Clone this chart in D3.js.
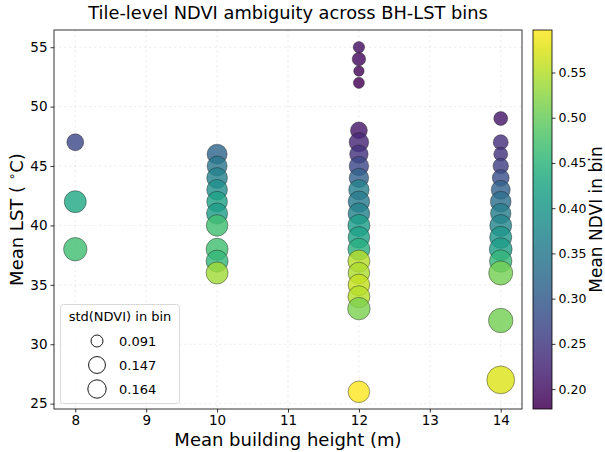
<!DOCTYPE html>
<html><head><meta charset="utf-8">
<script src="https://cdn.jsdelivr.net/npm/d3@7"></script>
<style>body{margin:0;background:#fff;} svg{display:block;font-family:"DejaVu Sans",sans-serif;}</style>
</head><body>
<svg id="c" width="605" height="452"></svg>
<script>
// Data
const bh   = [8,8,8,
  10,10,10,10,10,10,10,10,10,10,
  12,12,12,12,12,12,12,12,12,12,12,12,12,12,12,12,12,12,12,12,12,
  14,14,14,14,14,14,14,14,14,14,14,14,14,14,14];
const lst  = [47,42,38,
  46,45,44,43,42,41,40,38,37,36,
  55,54,53,52,48,47,46,45,44,43,42,41,40,39,38,37,36,35,34,33,26,
  49,47,46,45,44,43,42,41,40,39,38,37,36,32,27];
const ndvi = [0.27,0.43,0.47,
  0.316,0.345,0.366,0.387,0.42,0.41,0.47,0.47,0.455,0.538,
  0.195,0.19,0.185,0.178,0.205,0.225,0.24,0.27,0.31,0.36,0.35,0.365,0.41,0.42,0.44,0.55,0.545,0.56,0.55,0.515,0.597,
  0.205,0.235,0.24,0.255,0.28,0.31,0.33,0.355,0.37,0.40,0.41,0.455,0.51,0.51,0.575];
const stdv = [0.146,0.205,0.221,
  0.182,0.182,0.19,0.19,0.19,0.195,0.20,0.205,0.205,0.205,
  0.084,0.107,0.073,0.08,0.146,0.176,0.164,0.176,0.176,0.187,0.198,0.2,0.205,0.2,0.205,0.205,0.2,0.2,0.205,0.21,0.2,
  0.112,0.125,0.112,0.13,0.146,0.171,0.19,0.187,0.203,0.205,0.214,0.21,0.228,0.233,0.271];
const xTicks = [8,9,10,11,12,13,14];
const yTicks = [25,30,35,40,45,50,55];
const cTicks = [0.20,0.25,0.30,0.35,0.40,0.45,0.50,0.55];
const legendStd = [0.091,0.147,0.164];

const svg = d3.select("#c");
const L=54,R=522,T=30,B=409;
const x = d3.scaleLinear().domain([7.7,14.3]).range([L,R]);
const y = d3.scaleLinear().domain([24.55,56.45]).range([B,T]);
const cmin = d3.min(ndvi), cmax = d3.max(ndvi);
const color = d3.scaleSequential(d3.interpolateViridis).domain([cmin,cmax]);
const rad = d3.scaleLinear().domain([0.091,0.164]).range([6.0,9.2]);

// grid
const grid = svg.append("g").attr("stroke","#b0b0b0").attr("stroke-opacity",0.28).attr("stroke-width",0.8).attr("stroke-dasharray","2.5,2.5");
xTicks.forEach(t=>grid.append("line").attr("x1",x(t)).attr("x2",x(t)).attr("y1",T).attr("y2",B));
yTicks.forEach(t=>grid.append("line").attr("y1",y(t)).attr("y2",y(t)).attr("x1",L).attr("x2",R));

// points
const pts = bh.map((b,i)=>({b, l:lst[i], n:ndvi[i], s:stdv[i]}));
svg.append("g").selectAll("circle").data(pts).join("circle")
  .attr("cx",d=>x(d.b)).attr("cy",d=>y(d.l)).attr("r",d=>rad(d.s))
  .attr("fill",d=>color(d.n)).attr("fill-opacity",0.82)
  .attr("stroke","#222").attr("stroke-opacity",0.75).attr("stroke-width",0.6);

// axes
const xa = svg.append("g").attr("transform",`translate(0,${B})`)
  .call(d3.axisBottom(x).tickValues(xTicks).tickSize(3.5).tickPadding(3).tickFormat(d3.format("d")));
const ya = svg.append("g").attr("transform",`translate(${L},0)`)
  .call(d3.axisLeft(y).tickValues(yTicks).tickSize(3.5).tickPadding(3).tickFormat(d3.format("d")));
[xa,ya].forEach(a=>{a.select(".domain").remove(); a.selectAll("text").attr("font-size",13.5).attr("fill","#000").attr("font-family","DejaVu Sans"); a.selectAll("line").attr("stroke","#000").attr("stroke-width",0.8);});
svg.append("rect").attr("x",L).attr("y",T).attr("width",R-L).attr("height",B-T).attr("fill","none").attr("stroke","#000").attr("stroke-width",0.8);

// labels
svg.append("text").attr("x",(L+R)/2).attr("y",19).attr("text-anchor","middle").attr("font-size",17.8).text("Tile-level NDVI ambiguity across BH-LST bins");
svg.append("text").attr("x",(L+R)/2).attr("y",446).attr("text-anchor","middle").attr("font-size",18).text("Mean building height (m)");
const yl = svg.append("text").attr("transform",`translate(23,${(T+B)/2}) rotate(-90)`).attr("text-anchor","middle").attr("font-size",18);
yl.append("tspan").text("Mean LST ( ");
yl.append("tspan").attr("font-size",12).attr("dy",-7).text("∘");
yl.append("tspan").attr("dy",7).text("C)");

// legend
const lg = svg.append("g");
lg.append("rect").attr("x",60.5).attr("y",304.5).attr("width",119).attr("height",99).attr("rx",3)
  .attr("fill","#fff").attr("fill-opacity",0.8).attr("stroke","#d0d0d0").attr("stroke-width",0.8);
lg.append("text").attr("x",120).attr("y",321).attr("text-anchor","middle").attr("font-size",13).text("std(NDVI) in bin");
const ly = [341,365,389];
legendStd.forEach((s,i)=>{
  lg.append("circle").attr("cx",97).attr("cy",ly[i]).attr("r",rad(s)).attr("fill","none").attr("stroke","#000").attr("stroke-width",0.9);
  lg.append("text").attr("x",119).attr("y",ly[i]+4.5).attr("font-size",13).text(d3.format(".3f")(s));
});

// colorbar
const CX=533, CW=19;
const defs = svg.append("defs");
const grad = defs.append("linearGradient").attr("id","vg").attr("x1",0).attr("y1",1).attr("x2",0).attr("y2",0);
d3.range(0,1.0001,0.05).forEach(t=>grad.append("stop").attr("offset",t).attr("stop-color",d3.interpolateViridis(t)));
const cy = d3.scaleLinear().domain([cmin,cmax]).range([B,T]);
svg.append("rect").attr("x",CX).attr("y",T).attr("width",CW).attr("height",B-T).attr("fill","url(#vg)").attr("fill-opacity",0.85);
svg.append("rect").attr("x",CX).attr("y",T).attr("width",CW).attr("height",B-T).attr("fill","none").attr("stroke","#000").attr("stroke-width",0.8);
const ca = svg.append("g").attr("transform",`translate(${CX+CW},0)`)
  .call(d3.axisRight(cy).tickValues(cTicks).tickSize(3.5).tickPadding(3).tickFormat(d3.format(".2f")));
ca.select(".domain").remove();
ca.selectAll("text").attr("font-size",12.5).attr("fill","#000").attr("font-family","DejaVu Sans");
ca.selectAll("line").attr("stroke","#000").attr("stroke-width",0.8);
svg.append("text").attr("transform",`translate(602,${(T+B)/2}) rotate(-90)`).attr("text-anchor","middle").attr("font-size",17).text("Mean NDVI in bin");
</script>
</body></html>
